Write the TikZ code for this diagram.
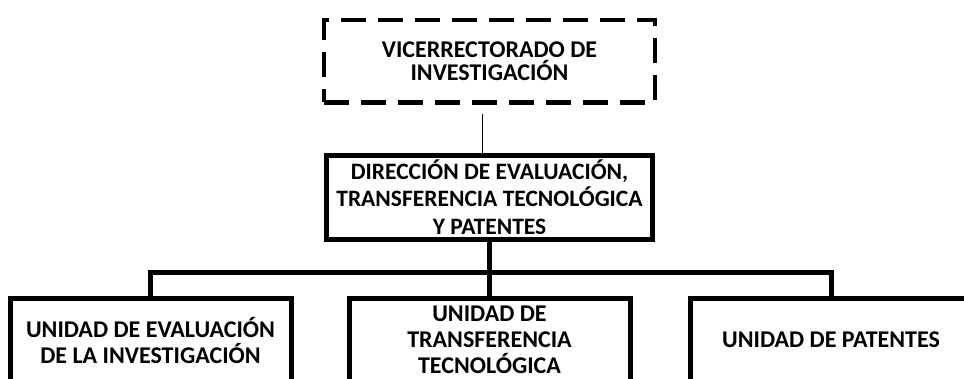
\documentclass[tikz,border=0pt]{standalone}
\usepackage{fontspec}
\setmainfont{Carlito}

\tikzset{
  vicebox/.style={draw, line width=4.5pt, dash pattern=on 25pt off 12pt,
    minimum width=331pt, minimum height=82.5pt, align=center, font=\bfseries\fontsize{24}{23}\selectfont},
  headbox/.style={draw, line width=5pt, minimum width=326pt, minimum height=84pt,
    align=center, font=\bfseries\fontsize{23.5}{27.5}\selectfont},
  unitbox/.style={draw, line width=5pt, minimum width=281pt, minimum height=83pt, inner sep=0pt,
    align=center, font=\bfseries\fontsize{24}{26}\selectfont},
  conn/.style={line width=5pt}
}

\begin{document}
\begin{tikzpicture}[x=1pt, y=-1pt]
\useasboundingbox (0,0) rectangle (964,378);
\clip (0,0) rectangle (964,378);
% vicerrectorado -> direccion -> tres unidades
\node[vicebox] (vice) at (489.5, 61) {VICERRECTORADO DE\\INVESTIGACIÓN};
\node[headbox] (dir) at (489.5, 197) {DIRECCIÓN DE EVALUACIÓN,\\TRANSFERENCIA TECNOLÓGICA\\Y PATENTES};
\node[unitbox] (eval)  at (150.5, 340) {UNIDAD DE EVALUACIÓN\\DE LA INVESTIGACIÓN};
\node[unitbox] (trans) at (489.5, 340) {UNIDAD DE\\TRANSFERENCIA\\TECNOLÓGICA};
\node[unitbox] (pat)   at (831, 340) {UNIDAD DE PATENTES};
\coordinate (bar) at ([yshift=-30.5pt]dir.south);
\draw[shorten <=9pt] ([xshift=-7.5pt]vice.south) -- ([xshift=-7.5pt]dir.north);
\draw[conn] (dir.south) -- (trans.north);
\draw[conn] (eval.north) |- (bar) -| (pat.north);
\end{tikzpicture}
\end{document}
